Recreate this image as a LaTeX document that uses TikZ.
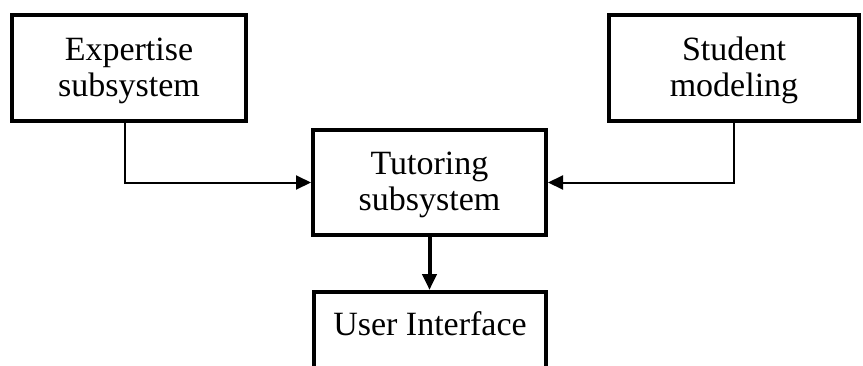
\documentclass[tikz,border=0pt]{standalone}
\usepackage{fontspec}
\setmainfont{Liberation Serif}
\usetikzlibrary{arrows.meta}
\begin{document}
\begin{tikzpicture}[x=1pt,y=-1pt,
    block/.style={draw, line width=4pt, inner sep=0pt, align=center, font=\fontsize{34}{36}\selectfont},
    twoline/.style={block, text height=65pt, text depth=9pt},
    link/.style={line width=2pt, -{Triangle[length=15pt,width=14pt]}}]
        \useasboundingbox (0,0) rectangle (863,365);
        \clip (0,0) rectangle (863,365);
        \node[twoline, minimum width=234pt, minimum height=106pt] (exp) at (129,68) {Expertise\\subsystem};
        \node[twoline, minimum width=250pt, minimum height=106pt] (stu) at (734,68) {Student\\modeling};
        \node[twoline, minimum width=233pt, minimum height=105pt] (tut) at (429.5,182.5) {Tutoring\\subsystem};
        \node[block, minimum width=232pt, text height=43pt, text depth=60pt, anchor=base] (ui) at (430,335) {User Interface};
        \draw[link] ([xshift=-4pt]exp.south) |- (tut.west);
        \draw[link] (stu.south) |- (tut.east);
        \draw[line width=4pt, -{Triangle[length=16pt,width=14pt]}] (tut.south) -- (tut.south |- ui.north);
    \end{tikzpicture}
\end{document}
